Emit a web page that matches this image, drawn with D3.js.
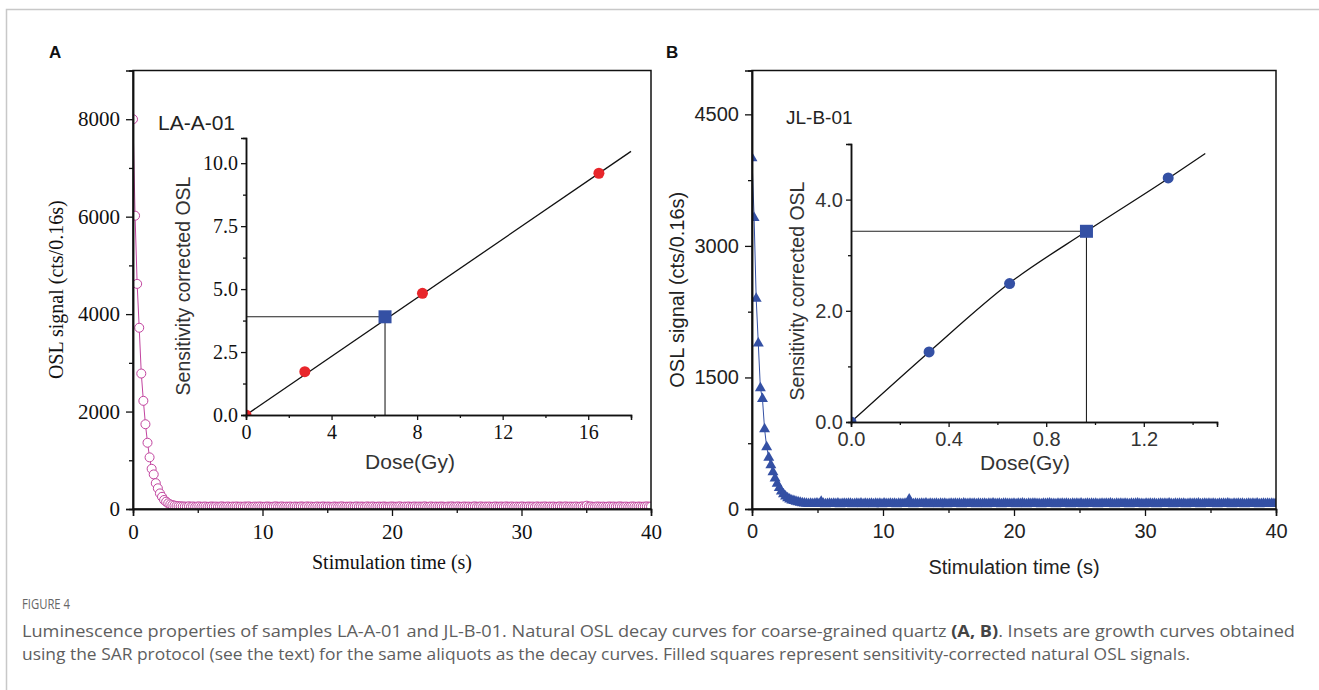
<!DOCTYPE html>
<html>
<head>
<meta charset="utf-8">
<script src="https://cdnjs.cloudflare.com/ajax/libs/d3/7.8.5/d3.min.js"></script>
<style>
body { margin: 0; background: #fff; }
</style>
</head>
<body>
<svg id="fig" width="1319" height="690"></svg>
<script>
// OSL decay curves, one reading every 0.16 s from 0 to 40 s
const STEP = 0.16;

const decayA = [
    8000,6020,4620,3720,2780,2220,1740,1360,1060,825,710,530,425,320,250,185,150,117,95,80,70,62,58,55,52,
    50,48,55,47,52,45,50,53,46,49,51,44,48,52,47,50,45,49,53,46,48,51,44,50,47,
    52,46,49,45,51,48,53,44,47,50,46,52,48,45,49,51,47,44,50,53,46,48,52,45,49,
    47,51,44,50,48,46,52,49,45,53,47,50,44,48,51,46,49,52,45,50,47,44,51,48,46,
    50,53,45,48,47,51,44,49,52,46,50,48,45,53,47,49,51,44,48,50,46,52,47,45,49,
    51,48,46,50,53,44,49,47,52,45,48,51,46,50,47,49,53,44,48,52,45,50,46,49,51,
    47,44,50,48,53,46,49,52,45,48,51,47,50,44,49,53,46,48,52,45,50,47,51,44,48,
    52,46,49,50,45,53,47,48,51,44,50,46,49,52,45,48,51,47,50,44,53,46,49,48,52,
    45,50,47,51,44,48,53,46,49,52,45,50,47,48,51,44,49,53,46,68,48,52,45,47,51,
    49,46,50,44,48,52,47,51,45,49,53,48,46,50,44,47,52,49,45,51,48,46,50,53,47,
    50
];

const decayB = [
    4000,3320,2400,1890,1380,1255,912,707,585,502,420,350,290,240,200,170,145,125,110,100,92,85,78,72,68,
    65,62,60,63,58,61,64,59,85,62,57,60,63,58,61,59,64,57,60,62,58,63,61,56,60,
    62,59,64,57,61,58,60,63,56,62,59,61,57,64,60,58,62,59,63,57,61,60,58,62,59,
    110,61,57,63,60,58,62,59,64,57,61,60,58,63,56,62,59,61,57,60,63,58,62,59,61,
    57,64,60,58,62,59,61,56,63,60,58,62,57,61,59,64,60,58,62,57,61,63,59,60,58,
    62,57,61,59,64,60,56,62,58,61,63,59,60,57,62,58,61,64,59,60,57,62,58,61,59,
    63,60,57,62,58,61,59,64,56,60,62,58,61,59,63,57,60,62,58,61,59,64,60,57,62,
    58,61,59,63,60,57,62,58,61,64,59,60,56,62,58,61,59,63,57,60,62,58,61,59,64,
    60,57,62,58,61,59,63,56,60,62,58,61,59,64,57,60,62,58,61,59,63,60,57,62,58,
    61,59,64,60,57,62,58,61,59,63,56,60,62,58,61,59,64,57,60,62,58,61,59,63,60,
    58
];

// growth curves (insets)
const doseA = [0, 2.75, 8.25, 16.5];
const lxA = [0, 1.72, 4.83, 9.6];
const naturalA = [6.5, 3.9];
const fitDoseA = [0, 18];
const fitLxA = [0, 10.47];

const doseB = [0, 0.32, 0.65, 1.3];
const lxB = [0, 1.26, 2.49, 4.39];
const naturalB = [0.965, 3.43];
const fitDoseB = [0, 0.32, 0.65, 0.965, 1.3, 1.452];
const fitLxB = [0, 1.26, 2.5, 3.43, 4.38, 4.83];

const SERIF = "'Liberation Serif', 'Times New Roman', serif";
const SANS = "'Liberation Sans', Arial, sans-serif";

let svg = d3.select('#fig');

// figure frame
svg.append('path')
    .attr('d', 'M6.5,700 V9.5 H1330')
    .attr('fill', 'none')
    .attr('stroke', '#c8c8c8')
    .attr('stroke-width', 1.5);

drawDecay({
    id: 'a', data: decayA, left: 133, right: 651, top: 70.5, bottom: 509,
    ymax: 9000, yticks: [0, 2000, 4000, 6000, 8000], yminor: d3.range(1000, 9000, 2000),
    font: SERIF, tickSize: 21, tickColor: '#111', labelSize: 20,
    xlabel: 'Stimulation time (s)', xlabelY: 569,
    ylabel: 'OSL signal (cts/0.16s)', ylabelX: 63,
    color: '#c2449f', marker: 'circle',
    panel: 'A', panelX: 49, sample: 'LA-A-01', sampleX: 158, sampleY: 130, sampleSize: 21
});

drawDecay({
    id: 'b', data: decayB, left: 752, right: 1276, top: 70.5, bottom: 509,
    ymax: 5000, yticks: [0, 1500, 3000, 4500], yminor: [750, 2250, 3750],
    font: SANS, tickSize: 20, tickColor: '#222', labelSize: 20,
    xlabel: 'Stimulation time (s)', xlabelY: 574,
    ylabel: 'OSL signal (cts/0.16s)', ylabelX: 684,
    color: '#3450a4', marker: 'triangle',
    panel: 'B', panelX: 666, sample: 'JL-B-01', sampleX: 786, sampleY: 124, sampleSize: 19
});

drawGrowth({
    id: 'ia', dose: doseA, lx: lxA, natural: naturalA, fitX: fitDoseA, fitY: fitLxA,
    left: 246, right: 631, top: 138, bottom: 415,
    xmax: 18, ymax: 11, xticks: [0, 4, 8, 12, 16], xminor: [2, 6, 10, 14],
    yticks: [0, 2.5, 5, 7.5, 10], yminor: [1.25, 3.75, 6.25, 8.75],
    xfmt: d3.format('d'), yfmt: d3.format('.1f'),
    tickFont: SERIF, tickSize: 20, tickColor: '#111',
    color: '#e8262b', ylabelX: 190, ylabelY: 286, xlabelX: 410, xlabelY: 469,
    curve: d3.curveLinear
});

drawGrowth({
    id: 'ib', dose: doseB, lx: lxB, natural: naturalB, fitX: fitDoseB, fitY: fitLxB,
    left: 851, right: 1217, top: 144, bottom: 422,
    xmax: 1.5, ymax: 5, xticks: [0, 0.4, 0.8, 1.2], xminor: [0.2, 0.6, 1.0, 1.4],
    yticks: [0, 2, 4], yminor: [1, 3],
    xfmt: d3.format('.1f'), yfmt: d3.format('.1f'),
    tickFont: SANS, tickSize: 20, tickColor: '#333',
    color: '#3450a4', ylabelX: 804, ylabelY: 291, xlabelX: 1025, xlabelY: 470,
    curve: d3.curveMonotoneX
});

drawCaption();

function drawDecay(o)
{
    let x = d3.scaleLinear().domain([0, 40]).range([o.left, o.right]);
    let y = d3.scaleLinear().domain([0, o.ymax]).range([o.bottom, o.top]);
    let g = svg.append('g');

    g.append('clipPath').attr('id', 'clip-' + o.id)
        .append('rect')
        .attr('x', o.left).attr('y', o.top)
        .attr('width', o.right - o.left).attr('height', o.bottom - o.top);

    let pts = o.data.map(function(v, i) { return [i * STEP, v]; });
    let plot = g.append('g').attr('clip-path', 'url(#clip-' + o.id + ')');

    plot.append('path')
        .datum(pts)
        .attr('fill', 'none')
        .attr('stroke', o.color)
        .attr('stroke-width', 1)
        .attr('d', d3.line().x(function(d) { return x(d[0]); }).y(function(d) { return y(d[1]); }));

    if (o.marker === 'circle') {
        plot.selectAll('.mk').data(pts).enter().append('circle')
            .attr('cx', function(d) { return x(d[0]); })
            .attr('cy', function(d) { return y(d[1]); })
            .attr('r', 4.5)
            .attr('fill', '#fff')
            .attr('stroke', o.color)
            .attr('stroke-width', 1);
    } else {
        let tri = d3.symbol().type(d3.symbolTriangle).size(52);
        plot.selectAll('.mk').data(pts).enter().append('path')
            .attr('transform', function(d) { return 'translate(' + x(d[0]) + ',' + y(d[1]) + ')'; })
            .attr('d', tri)
            .attr('fill', o.color);
    }

    // frame
    g.append('rect')
        .attr('x', o.left).attr('y', o.top)
        .attr('width', o.right - o.left).attr('height', o.bottom - o.top)
        .attr('fill', 'none').attr('stroke', '#111').attr('stroke-width', 1.5);

    g.append('g').attr('transform', 'translate(0,' + o.bottom + ')')
        .call(d3.axisBottom(x).tickValues([0, 10, 20, 30, 40]).tickSize(7).tickPadding(8).tickFormat(d3.format('d')));
    g.append('g').attr('transform', 'translate(0,' + o.bottom + ')')
        .call(d3.axisBottom(x).tickValues([5, 15, 25, 35]).tickSize(4).tickFormat(''));
    g.append('g').attr('transform', 'translate(' + o.left + ',0)')
        .call(d3.axisLeft(y).tickValues(o.yticks).tickSize(7).tickPadding(6).tickFormat(d3.format('d')));
    g.append('g').attr('transform', 'translate(' + o.left + ',0)')
        .call(d3.axisLeft(y).tickValues(o.yminor).tickSize(4).tickFormat(''));

    g.selectAll('.domain').attr('stroke', '#111').attr('stroke-width', 1.5);
    g.selectAll('.tick line').attr('stroke', '#111').attr('stroke-width', 1.3);
    g.selectAll('.tick text')
        .style('font-family', o.font).style('font-size', o.tickSize + 'px').attr('fill', o.tickColor);

    g.append('text')
        .attr('x', (o.left + o.right) / 2).attr('y', o.xlabelY)
        .attr('text-anchor', 'middle')
        .style('font-family', o.font).style('font-size', o.labelSize + 'px').attr('fill', o.tickColor)
        .text(o.xlabel);

    g.append('text')
        .attr('transform', 'translate(' + o.ylabelX + ',' + ((o.top + o.bottom) / 2) + ') rotate(-90)')
        .attr('text-anchor', 'middle')
        .style('font-family', o.font).style('font-size', o.labelSize + 'px').attr('fill', o.tickColor)
        .text(o.ylabel);

    g.append('text')
        .attr('x', o.panelX).attr('y', 58)
        .style('font-family', SANS).style('font-size', '17px').style('font-weight', 'bold')
        .attr('fill', '#111')
        .text(o.panel);

    g.append('text')
        .attr('x', o.sampleX).attr('y', o.sampleY)
        .style('font-family', SANS).style('font-size', o.sampleSize + 'px').attr('fill', '#222')
        .text(o.sample);
}

function drawGrowth(o)
{
    let x = d3.scaleLinear().domain([0, o.xmax]).range([o.left, o.right]);
    let y = d3.scaleLinear().domain([0, o.ymax]).range([o.bottom, o.top]);
    let g = svg.append('g');

    g.append('clipPath').attr('id', 'clip-' + o.id)
        .append('rect')
        .attr('x', o.left).attr('y', o.top - 10)
        .attr('width', o.right - o.left + 10).attr('height', o.bottom - o.top + 10);

    let plot = g.append('g').attr('clip-path', 'url(#clip-' + o.id + ')');

    let fit = o.fitX.map(function(d, i) { return [d, o.fitY[i]]; });
    plot.append('path')
        .datum(fit)
        .attr('fill', 'none')
        .attr('stroke', '#111')
        .attr('stroke-width', 1.3)
        .attr('d', d3.line().curve(o.curve).x(function(d) { return x(d[0]); }).y(function(d) { return y(d[1]); }));

    // natural signal projected onto the curve
    plot.append('path')
        .attr('d', 'M' + x(0) + ',' + y(o.natural[1]) + 'H' + x(o.natural[0]) + 'V' + y(0))
        .attr('fill', 'none')
        .attr('stroke', '#222')
        .attr('stroke-width', 1.1);

    plot.selectAll('.pt').data(o.dose).enter().append('circle')
        .attr('cx', function(d) { return x(d); })
        .attr('cy', function(d, i) { return y(o.lx[i]); })
        .attr('r', 5.5)
        .attr('fill', o.color);

    plot.append('rect')
        .attr('x', x(o.natural[0]) - 6.5).attr('y', y(o.natural[1]) - 6.5)
        .attr('width', 13).attr('height', 13)
        .attr('fill', '#3450a4');

    g.append('g').attr('transform', 'translate(0,' + o.bottom + ')')
        .call(d3.axisBottom(x).tickValues(o.xticks).tickSize(5).tickPadding(5).tickFormat(o.xfmt));
    g.append('g').attr('transform', 'translate(0,' + o.bottom + ')')
        .call(d3.axisBottom(x).tickValues(o.xminor).tickSize(3).tickFormat(''));
    g.append('g').attr('transform', 'translate(' + o.left + ',0)')
        .call(d3.axisLeft(y).tickValues(o.yticks).tickSize(5).tickPadding(3).tickFormat(o.yfmt));
    g.append('g').attr('transform', 'translate(' + o.left + ',0)')
        .call(d3.axisLeft(y).tickValues(o.yminor).tickSize(3).tickFormat(''));

    g.selectAll('.domain').attr('stroke', '#111').attr('stroke-width', 1.5);
    g.selectAll('.tick line').attr('stroke', '#111').attr('stroke-width', 1.3);
    g.selectAll('.tick text')
        .style('font-family', o.tickFont).style('font-size', o.tickSize + 'px').attr('fill', o.tickColor);

    g.append('text')
        .attr('x', o.xlabelX).attr('y', o.xlabelY)
        .attr('text-anchor', 'middle')
        .style('font-family', SANS).style('font-size', '21px').attr('fill', '#333')
        .text('Dose(Gy)');

    g.append('text')
        .attr('transform', 'translate(' + o.ylabelX + ',' + o.ylabelY + ') rotate(-90)')
        .attr('text-anchor', 'middle')
        .style('font-family', SANS).style('font-size', '19.5px').attr('fill', '#333')
        .text('Sensitivity corrected OSL');
}

function drawCaption()
{
    let cap = svg.append('g').style('font-family', "'Open Sans', 'Noto Sans', sans-serif");

    cap.append('text')
        .attr('x', 22).attr('y', 609)
        .style('font-size', '14px').attr('fill', '#666')
        .attr('textLength', 48).attr('lengthAdjust', 'spacingAndGlyphs')
        .text('FIGURE 4');

    let l1 = cap.append('text')
        .attr('x', 22).attr('y', 637)
        .style('font-size', '16px').attr('fill', '#5e5e5e')
        .attr('textLength', 1273).attr('lengthAdjust', 'spacingAndGlyphs');
    l1.append('tspan').text('Luminescence properties of samples LA-A-01 and JL-B-01. Natural OSL decay curves for coarse-grained quartz ');
    l1.append('tspan').style('font-weight', 'bold').attr('fill', '#444').text('(A, B)');
    l1.append('tspan').text('. Insets are growth curves obtained');

    cap.append('text')
        .attr('x', 22).attr('y', 660)
        .style('font-size', '16px').attr('fill', '#5e5e5e')
        .attr('textLength', 1168).attr('lengthAdjust', 'spacingAndGlyphs')
        .text('using the SAR protocol (see the text) for the same aliquots as the decay curves. Filled squares represent sensitivity-corrected natural OSL signals.');
}
</script>
</body>
</html>
